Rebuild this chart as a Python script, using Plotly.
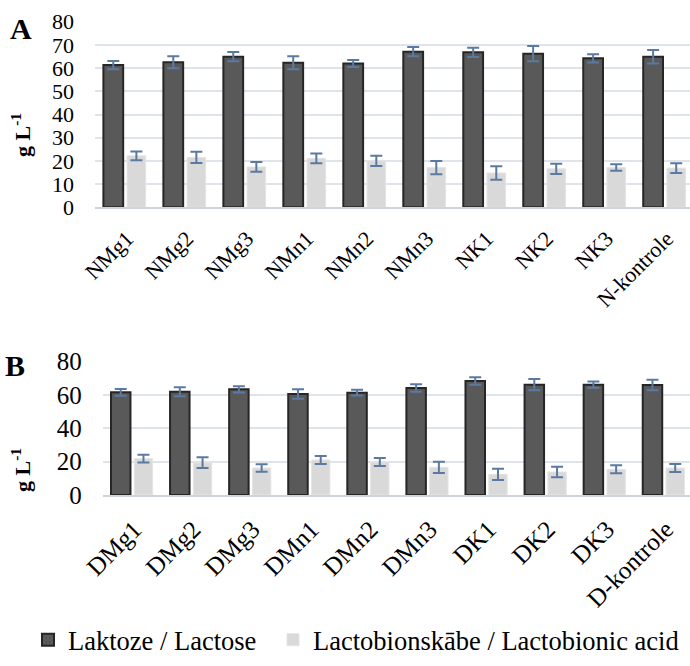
import plotly.graph_objects as go

# Sample groups
cats_A = ["NMg1", "NMg2", "NMg3", "NMn1", "NMn2", "NMn3", "NK1", "NK2", "NK3", "N-kontrole"]
cats_B = ["DMg1", "DMg2", "DMg3", "DMn1", "DMn2", "DMn3", "DK1", "DK2", "DK3", "D-kontrole"]

# Concentrations, g L-1 (mean and error)
lactose_A = [61.3, 62.5, 64.9, 62.3, 62.0, 67.1, 66.8, 66.2, 64.2, 64.9]
lactose_A_err = [1.8, 2.6, 2.0, 2.8, 1.5, 2.0, 2.0, 3.3, 1.8, 2.9]
lba_A = [22.2, 21.5, 17.4, 21.1, 20.0, 17.1, 14.8, 16.6, 17.2, 16.9]
lba_A_err = [1.9, 2.4, 2.1, 2.1, 2.2, 2.9, 2.9, 2.2, 1.4, 2.1]

lactose_B = [61.6, 62.0, 63.4, 60.6, 61.4, 64.2, 68.4, 66.2, 66.2, 66.0]
lactose_B_err = [2.0, 2.7, 1.9, 2.9, 1.7, 2.3, 2.2, 3.4, 1.9, 3.2]
lba_B = [21.8, 19.4, 16.2, 21.0, 19.8, 16.6, 12.4, 13.8, 15.4, 16.2]
lba_B_err = [2.3, 3.2, 2.2, 2.4, 2.4, 3.4, 3.4, 3.1, 2.4, 2.4]

series_names = ["Laktoze / Lactose", "Lactobionskābe / Lactobionic acid"]

FONT = "Liberation Serif, Times New Roman, serif"
DARK = "#595959"
DARK_EDGE = "#262626"
LIGHT = "#d9d9d9"
LIGHT_EDGE = "#e4e4e4"
ERR = "#5b7aa1"
GRID = "#dfe3ea"

W, H = 690, 666

fig = go.Figure()


def add_panel(cats, lac, lac_err, lba, lba_err, xa, ya, show_legend):
    fig.add_trace(go.Bar(
        x=cats, y=lac, name=series_names[0], xaxis=xa, yaxis=ya,
        width=0.33, offset=-0.36,
        marker=dict(color=DARK, line=dict(color=DARK_EDGE, width=2)),
        error_y=dict(type="data", array=lac_err, visible=True,
                     color=ERR, thickness=2, width=6),
        showlegend=show_legend, legend="legend",
    ))
    fig.add_trace(go.Bar(
        x=cats, y=lba, name=series_names[1], xaxis=xa, yaxis=ya,
        width=0.31, offset=0.035,
        marker=dict(color=LIGHT, line=dict(color=LIGHT_EDGE, width=1)),
        error_y=dict(type="data", array=lba_err, visible=True,
                     color=ERR, thickness=2, width=6),
        showlegend=show_legend, legend="legend2",
    ))


add_panel(cats_A, lactose_A, lactose_A_err, lba_A, lba_A_err, "x", "y", True)
add_panel(cats_B, lactose_B, lactose_B_err, lba_B, lba_B_err, "x2", "y2", False)

ax_common = dict(
    type="category", showgrid=False, zeroline=False, automargin=False,
    showline=True, linecolor="#cfd3da", linewidth=1.5,
    ticks="", tickangle=-45, ticklabelshift=2, ticklabelstandoff=8,
)
ay_common = dict(
    range=[0, 80], showgrid=True, gridcolor=GRID, gridwidth=1.5,
    zeroline=False, showline=False, ticks="", automargin=False,
    ticklabelstandoff=20,
)

legend_common = dict(
    orientation="h", xanchor="left", y=(H - 640) / H, yanchor="middle",
    font=dict(size=26.5, family=FONT, color="#000000"),
    bgcolor="rgba(0,0,0,0)", borderwidth=0,
)

fig.update_layout(
    width=W, height=H,
    margin=dict(l=0, r=0, t=0, b=0, autoexpand=False),
    paper_bgcolor="white", plot_bgcolor="white",
    font=dict(family=FONT, color="#000000"),
    barmode="overlay",
    xaxis=dict(**ax_common, domain=[95 / W, 1], range=[-0.5, 9.42],
               tickfont=dict(size=22, family=FONT, color="#000000"), anchor="y"),
    yaxis=dict(**ay_common, domain=[(H - 207.3) / H, (H - 21.7) / H], dtick=10,
               tickfont=dict(size=22, family=FONT, color="#000000"), anchor="x"),
    xaxis2=dict(**ax_common, domain=[102.7 / W, 1], range=[-0.5, 9.44],
                tickfont=dict(size=25, family=FONT, color="#000000"), anchor="y2"),
    yaxis2=dict(**ay_common, domain=[(H - 495) / H, (H - 361.7) / H], dtick=20,
                tickfont=dict(size=25, family=FONT, color="#000000"), anchor="x2"),
    legend=dict(**legend_common, x=28 / W),
    legend2=dict(**legend_common, x=273 / W),
)

# Panel letters and axis titles
for txt, x, y in [("A", 21, 28), ("B", 15, 366)]:
    fig.add_annotation(text=f"<b>{txt}</b>", x=x / W, y=(H - y) / H,
                       xref="paper", yref="paper", showarrow=False,
                       xanchor="center", yanchor="middle",
                       font=dict(size=30, family=FONT, color="#000000"))

for y in [135, 470]:
    fig.add_annotation(text="<b>g L<sup>-1</sup></b>", x=21 / W, y=(H - y) / H,
                       xref="paper", yref="paper", showarrow=False,
                       xanchor="center", yanchor="middle", textangle=-90,
                       font=dict(size=22, family=FONT, color="#000000"))

fig.write_html("out.html")
